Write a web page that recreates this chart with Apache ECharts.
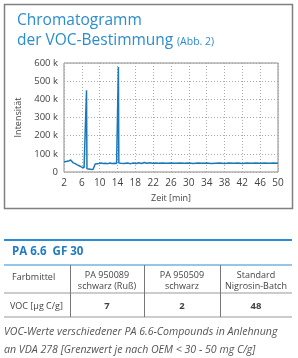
<!DOCTYPE html>
<html>
<head>
<meta charset="utf-8">
<script src="https://cdn.jsdelivr.net/npm/echarts@6/dist/echarts.min.js"></script>
<style>
  html, body { margin: 0; padding: 0; background: #fff; }
  #chart { width: 298px; height: 358px; }
</style>
</head>
<body>
<div id="chart"></div>
<script>
// chromatogram trace [time min, intensity]
const trace = [
  [2.0, 56000], [2.3, 62000], [2.5, 58000], [2.8, 63000], [3.0, 60000], [3.1, 71000], [3.3, 62000],
  [3.5, 66000], [3.7, 58000], [4.0, 52000], [4.5, 46000], [5.0, 39000], [5.5, 33000], [6.0, 27000],
  [6.5, 23000], [6.9, 21000], [7.05, 450000], [7.15, 18000], [7.5, 16000], [8.0, 15000], [8.5, 14000],
  [8.8, 16000], [9.0, 44000], [9.3, 48000], [9.8, 47000], [10.3, 49000], [10.8, 47000], [11.3, 48000],
  [11.8, 46000], [12.3, 49000], [12.8, 47000], [13.3, 48000], [13.8, 47000], [14.1, 48000], [14.2, 578000],
  [14.3, 49000], [14.8, 48000], [15.5, 47000], [16.2, 49000], [17.0, 46000], [17.6, 50000], [18.2, 47000],
  [18.8, 51000], [19.4, 47000], [20.0, 52000], [20.6, 48000], [21.2, 51000], [21.8, 48000], [22.5, 50000],
  [23.2, 48000], [24.0, 50000], [25.0, 48000], [26.0, 49000], [27.0, 48000], [28.0, 50000], [29.0, 48000],
  [30.0, 49000], [31.0, 47000], [32.0, 49000], [33.0, 48000], [34.0, 49000], [35.0, 47000], [36.0, 48000],
  [37.0, 49000], [38.0, 47000], [39.0, 49000], [40.0, 48000], [41.0, 49000], [42.0, 47000], [43.0, 49000],
  [44.0, 48000], [45.0, 49000], [46.0, 48000], [47.0, 49000], [48.0, 48000], [49.0, 49000], [50.0, 48000]
];

// table
const tableTitle = 'PA 6.6  GF 30';
const headerLabel = 'Farbmittel';
const colHeaders = [['PA 950089', 'schwarz (Ruß)'], ['PA 950509', 'schwarz'], ['Standard', 'Nigrosin-Batch']];
const rowLabel = 'VOC [µg C/g]';
const vocValues = [7, 2, 48];
const caption = [
  'VOC-Werte verschiedener PA 6.6-Compounds in Anlehnung',
  'an VDA 278 [Grenzwert je nach OEM < 30 - 50 mg C/g]'
];

const FONT = '"Open Sans", "Noto Sans", sans-serif';
const BLUE = '#2b8dcf';
const GRAY = '#444';

const chart = echarts.init(document.getElementById('chart'), null, { renderer: 'canvas' });

// table geometry
const colX = [4, 70, 144, 220, 292];
const headTop = 265, rowSep = 293, tableBottom = 317;

const graphics = [
  // outer frame of chart
  { type: 'rect', shape: { x: 4.5, y: 4.5, width: 288, height: 204 },
    style: { fill: 'none', stroke: '#808080', lineWidth: 1.5 } },
  { type: 'text', x: 17, y: 29, style: { text: 'Chromatogramm', font: '15.5px ' + FONT, fill: BLUE, textVerticalAlign: 'bottom' } },
  { type: 'text', x: 17, y: 49, style: { text: 'der VOC-Bestimmung', font: '15.5px ' + FONT, fill: BLUE, textVerticalAlign: 'bottom' } },
  { type: 'text', x: 177, y: 48, style: { text: '(Abb. 2)', font: '10.5px ' + FONT, fill: BLUE, textVerticalAlign: 'bottom' } },
  // table lines
  { type: 'line', shape: { x1: 4, y1: 240, x2: 292, y2: 240 }, style: { stroke: BLUE, lineWidth: 2 } },
  { type: 'text', x: 12, y: 252, style: { text: tableTitle, font: 'bold 11.5px ' + FONT, fill: '#1f7cc0', textVerticalAlign: 'middle' } },
  { type: 'line', shape: { x1: 4, y1: headTop, x2: 292, y2: headTop }, style: { stroke: BLUE, lineWidth: 1 } },
  { type: 'line', shape: { x1: 4, y1: rowSep, x2: 292, y2: rowSep }, style: { stroke: '#999', lineWidth: 1 } },
  { type: 'line', shape: { x1: 4, y1: tableBottom, x2: 292, y2: tableBottom }, style: { stroke: '#999', lineWidth: 1 } },
  { type: 'text', x: 12, y: 277, style: { text: headerLabel, font: '9px ' + FONT, fill: GRAY, textVerticalAlign: 'middle' } },
  { type: 'text', x: 10, y: 306, style: { text: rowLabel, font: '9px ' + FONT, fill: GRAY, textVerticalAlign: 'middle' } }
];
[1, 2, 3].forEach(i => {
  graphics.push({ type: 'line', shape: { x1: colX[i] + 0.5, y1: headTop, x2: colX[i] + 0.5, y2: tableBottom },
    style: { stroke: '#777', lineWidth: 1 } });
});
colHeaders.forEach((lines, i) => {
  const cx = (colX[i + 1] + colX[i + 2]) / 2;
  lines.forEach((t, j) => {
    graphics.push({ type: 'text', x: cx, y: 275 + j * 11,
      style: { text: t, font: '9px ' + FONT, fill: GRAY, textAlign: 'center', textVerticalAlign: 'middle' } });
  });
  graphics.push({ type: 'text', x: cx, y: 306,
    style: { text: String(vocValues[i]), font: 'bold 9.5px ' + FONT, fill: GRAY, textAlign: 'center', textVerticalAlign: 'middle' } });
});
caption.forEach((t, j) => {
  graphics.push({ type: 'text', x: 4, y: 332 + j * 18,
    style: { text: t, font: 'italic 10.6px ' + FONT, fill: '#555', textVerticalAlign: 'middle' } });
});

chart.setOption({
  animation: false,
  textStyle: { fontFamily: FONT },
  grid: { left: 64, right: 20, top: 63, bottom: 186, show: true, borderColor: '#8a8a8a', borderWidth: 1 },
  xAxis: {
    type: 'value', min: 2, max: 50, interval: 4,
    name: 'Zeit [min]', nameLocation: 'middle', nameGap: 22,
    nameTextStyle: { fontSize: 9, color: GRAY, fontFamily: FONT },
    axisLine: { show: false }, axisTick: { show: false },
    axisLabel: { fontSize: 10, color: GRAY, margin: 6 },
    splitLine: { lineStyle: { type: [1, 2], color: '#aaa' } }
  },
  yAxis: {
    type: 'value', min: 0, max: 600000, interval: 100000,
    name: 'Intensität', nameLocation: 'middle', nameGap: 33, nameRotate: 90,
    nameTextStyle: { fontSize: 9, color: GRAY, fontFamily: FONT },
    axisLine: { show: false }, axisTick: { show: false },
    axisLabel: { fontSize: 9.5, color: GRAY, margin: 6, formatter: v => v === 0 ? '0' : (v / 1000) + ' k' },
    splitLine: { lineStyle: { type: [1, 2], color: '#aaa' } }
  },
  series: [{
    type: 'line', data: trace, showSymbol: false, symbol: 'none',
    lineStyle: { color: '#1b78b8', width: 1.5 }
  }],
  graphic: graphics
});
</script>
</body>
</html>
